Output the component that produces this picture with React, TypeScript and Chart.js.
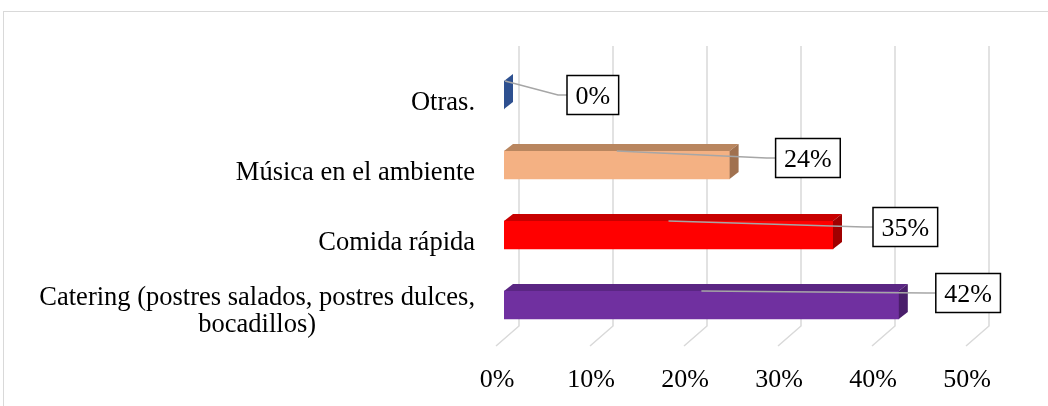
import React, { useEffect, useRef } from "react";
import { Chart, registerables } from "chart.js";

Chart.register(...registerables);

// ---- data ----
const categories: (string | string[])[] = [
  "Otras.",
  "Música en el ambiente",
  "Comida rápida",
  ["Catering (postres salados, postres dulces,", "bocadillos)"],
];
const values = [0, 24, 35, 42];
const valueLabels = ["0%", "24%", "35%", "42%"];
const xTickValues = [0, 10, 20, 30, 40, 50];
const xTickSuffix = "%";

// ---- styles ----
const frontColors = ["#2F5597", "#F4B183", "#FF0000", "#7030A0"];
const topColors = ["#294B86", "#B9865F", "#C80000", "#5A2683"];
const sideColors = ["#2E5090", "#A0714F", "#A00000", "#4A1E6B"];
const labelShiftX = [63, 46, 40, 37];
const labelShiftY = [0, -7, -8, -12];

const FONT = '"Liberation Serif", "Times New Roman", serif';
const FONT_SIZE = 26;
const CAT_FONT_SIZE = 26.5;
const DEPTH_X = 9;
const DEPTH_Y = 7;
const GRID_COLOR = "#D9D9D9";

const gridPlugin = {
  id: "grid3d",
  beforeDatasetsDraw(chart: any) {
    const { ctx, chartArea } = chart;
    const xs = chart.scales.x;
    ctx.save();
    ctx.strokeStyle = GRID_COLOR;
    ctx.lineWidth = 1.5;
    for (const v of xTickValues) {
      const px = xs.getPixelForValue(v);
      const back = px + 15;
      ctx.beginPath();
      ctx.moveTo(back, chartArea.top - 14);
      ctx.lineTo(back, chartArea.bottom - 14);
      ctx.lineTo(px - 8, chartArea.bottom + 6);
      ctx.stroke();
    }
    ctx.restore();
  },
};

const bar3dPlugin = {
  id: "bar3d",
  afterDatasetsDraw(chart: any) {
    const { ctx } = chart;
    const meta = chart.getDatasetMeta(0);
    ctx.save();
    meta.data.forEach((el: any, i: number) => {
      const p = el.getProps(["x", "y", "base", "height"], true);
      const top = p.y - p.height / 2;
      const bottom = p.y + p.height / 2;
      if (p.x - p.base > 0.5) {
        ctx.fillStyle = topColors[i];
        ctx.beginPath();
        ctx.moveTo(p.base, top);
        ctx.lineTo(p.base + DEPTH_X, top - DEPTH_Y);
        ctx.lineTo(p.x + DEPTH_X, top - DEPTH_Y);
        ctx.lineTo(p.x, top);
        ctx.closePath();
        ctx.fill();
      }
      ctx.fillStyle = sideColors[i];
      ctx.beginPath();
      ctx.moveTo(p.x, top);
      ctx.lineTo(p.x + DEPTH_X, top - DEPTH_Y);
      ctx.lineTo(p.x + DEPTH_X, bottom - DEPTH_Y);
      ctx.lineTo(p.x, bottom);
      ctx.closePath();
      ctx.fill();
    });
    ctx.restore();
  },
};

const labelsPlugin = {
  id: "labels3d",
  afterDraw(chart: any) {
    const { ctx, chartArea } = chart;
    const ys = chart.scales.y;
    const meta = chart.getDatasetMeta(0);
    ctx.save();
    ctx.fillStyle = "#000";

    // category labels
    ctx.font = `${CAT_FONT_SIZE}px ${FONT}`;
    const rightEdge = chartArea.left - 29;
    const lineH = 27;
    categories.forEach((c, i) => {
      const lines = Array.isArray(c) ? c : [c];
      const center = ys.getPixelForTick(i);
      const widths = lines.map((l) => ctx.measureText(l).width);
      const blockW = Math.max(...widths);
      const blockCx = rightEdge - blockW / 2;
      const first = center + 14.5 - (lines.length - 1) * 14.5;
      ctx.textAlign = "center";
      ctx.textBaseline = "alphabetic";
      lines.forEach((l, k) => {
        ctx.fillText(l, blockCx, first + k * lineH);
      });
    });

    // data labels with leader lines
    ctx.font = `${FONT_SIZE}px ${FONT}`;
    meta.data.forEach((el: any, i: number) => {
      const p = el.getProps(["x", "y", "base", "height"], true);
      const frontTop = p.y - p.height / 2;
      const txt = valueLabels[i];
      const tw = ctx.measureText(txt).width;
      const boxW = tw + 17;
      const boxH = 39;
      const boxL = p.x + labelShiftX[i];
      const boxCy = p.y + labelShiftY[i];
      const boxT = boxCy - boxH / 2;
      const midX = (p.x + p.base) / 2 + (p.x - p.base < 1 ? 1 : 0);
      ctx.strokeStyle = "#A6A6A6";
      ctx.lineWidth = 1.5;
      ctx.beginPath();
      ctx.moveTo(midX, frontTop);
      ctx.lineTo(boxL - 9, boxCy);
      ctx.lineTo(boxL, boxCy);
      ctx.stroke();
      ctx.fillStyle = "#fff";
      ctx.fillRect(boxL, boxT, boxW, boxH);
      ctx.strokeStyle = "#000";
      ctx.lineWidth = 1.5;
      ctx.strokeRect(boxL, boxT, boxW, boxH);
      ctx.fillStyle = "#000";
      ctx.textAlign = "center";
      ctx.textBaseline = "alphabetic";
      ctx.fillText(txt, boxL + boxW / 2, boxCy + 9);
    });

    // outer border
    ctx.strokeStyle = GRID_COLOR;
    ctx.lineWidth = 1;
    ctx.strokeRect(3.5, 11.5, 1200, 600);
    ctx.restore();
  },
};

export default function App() {
  const ref = useRef<HTMLCanvasElement | null>(null);
  useEffect(() => {
    if (!ref.current) return;
    const chart = new Chart(ref.current, {
      type: "bar",
      data: {
        labels: categories as any,
        datasets: [
          {
            data: values,
            backgroundColor: frontColors,
            borderWidth: 0,
            barThickness: 28,
          },
        ],
      },
      options: {
        indexAxis: "y",
        animation: false,
        responsive: false,
        devicePixelRatio: 1,
        layout: { padding: { left: 504, right: 74, top: 60, bottom: 0 } },
        plugins: { legend: { display: false }, tooltip: { enabled: false } },
        scales: {
          x: {
            type: "linear",
            min: 0,
            max: 50,
            afterFit: (s: any) => {
              s.height = 66;
            },
            afterBuildTicks: (s: any) => {
              s.ticks = xTickValues.map((v) => ({ value: v }));
            },
            grid: { display: false },
            border: { display: false },
            ticks: {
              padding: 17,
              labelOffset: -7,
              color: "#000",
              font: { family: FONT, size: FONT_SIZE },
              callback: (v: any) => `${v}${xTickSuffix}`,
            },
          },
          y: {
            display: false,
            grid: { display: false },
          },
        },
      },
      plugins: [gridPlugin, bar3dPlugin, labelsPlugin],
    });
    return () => chart.destroy();
  }, []);
  return (
    <div style={{ position: "absolute", left: 0, top: 0, width: 1048, height: 406, background: "#fff" }}>
      <canvas ref={ref} width={1048} height={406} style={{ display: "block" }} />
    </div>
  );
}
